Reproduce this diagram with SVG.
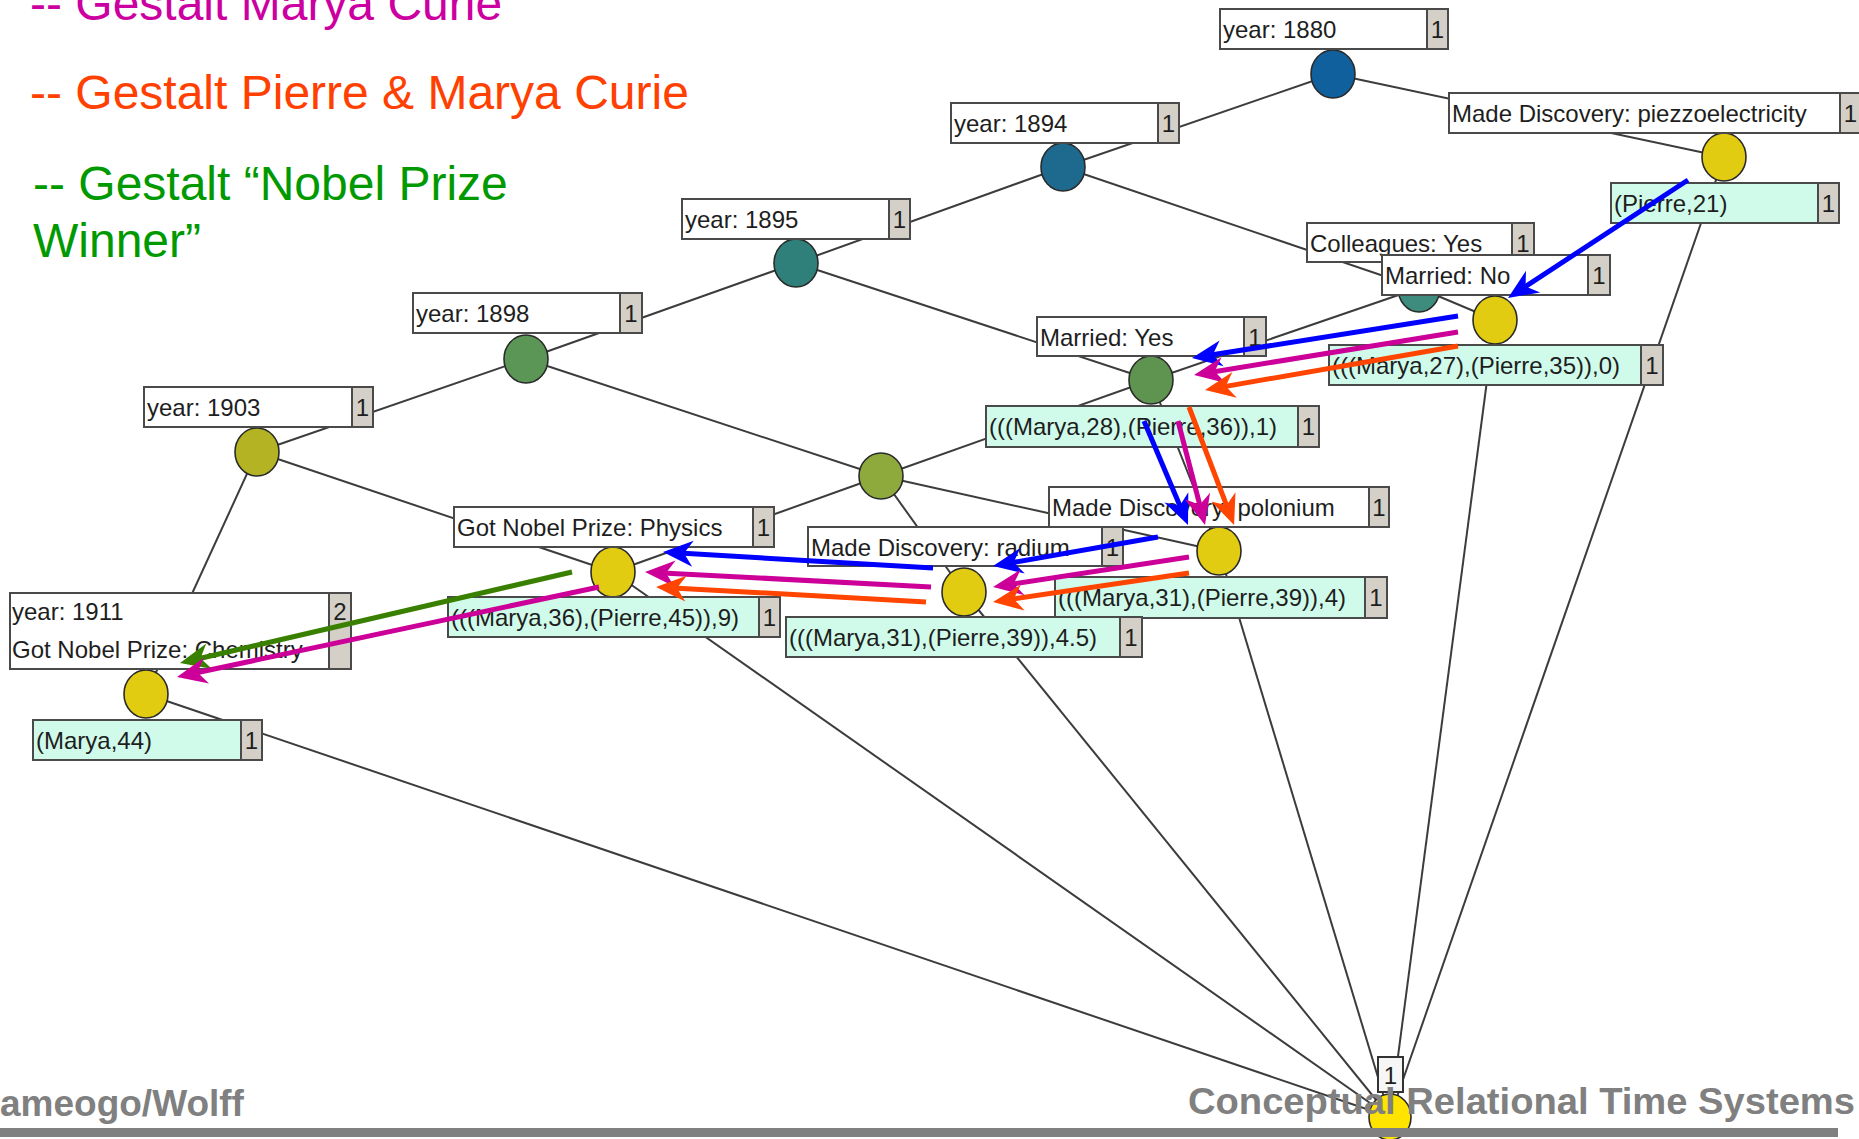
<svg xmlns="http://www.w3.org/2000/svg" width="1859" height="1139" viewBox="0 0 1859 1139">
<style>
.edge{stroke:#3c3c3c;stroke-width:2;fill:none}
.node{stroke:#2a2a2a;stroke-width:1.6}
.lbl{fill:#ffffff;stroke:#4a4a4a;stroke-width:2}
.obj{fill:#D0FBEA;stroke:#4a4a4a;stroke-width:2}
.cnt{fill:#D4D0C8;stroke:#4a4a4a;stroke-width:2}
.t{font-family:"Liberation Sans",Arial,sans-serif;font-size:24px;fill:#1e1e1e}
.tc{text-anchor:middle}
.arr{fill:none;stroke-width:5}
.title{font-family:"Liberation Sans",Arial,sans-serif;font-size:48px}
.foot{font-family:"Liberation Sans",Arial,sans-serif;font-size:37px;font-weight:bold;fill:#808080}
</style>
<defs>
<marker id="hb" markerUnits="userSpaceOnUse" viewBox="-24 -15 34 30" markerWidth="34" markerHeight="30" refX="0" refY="0" orient="auto"><path d="M8,0 L-22,-13 L-13,0 L-22,13 Z" fill="#0000FF"/></marker>
<marker id="hm" markerUnits="userSpaceOnUse" viewBox="-24 -15 34 30" markerWidth="34" markerHeight="30" refX="0" refY="0" orient="auto"><path d="M8,0 L-22,-13 L-13,0 L-22,13 Z" fill="#CC0099"/></marker>
<marker id="ho" markerUnits="userSpaceOnUse" viewBox="-24 -15 34 30" markerWidth="34" markerHeight="30" refX="0" refY="0" orient="auto"><path d="M8,0 L-22,-13 L-13,0 L-22,13 Z" fill="#FF4500"/></marker>
<marker id="hg" markerUnits="userSpaceOnUse" viewBox="-24 -15 34 30" markerWidth="34" markerHeight="30" refX="0" refY="0" orient="auto"><path d="M8,0 L-22,-13 L-13,0 L-22,13 Z" fill="#3A8000"/></marker>
</defs>
<rect x="0" y="0" width="1859" height="1139" fill="#ffffff"/>

<g id="titles">
<text class="title" x="30" y="20" fill="#CC00A0">-- Gestalt Marya Curie</text>
<text class="title" x="30" y="109" fill="#FF4000">-- Gestalt Pierre &amp; Marya Curie</text>
<text class="title" x="33" y="200" fill="#009900">-- Gestalt “Nobel Prize</text>
<text class="title" x="33" y="257" fill="#009900">Winner”</text>
</g>

<g id="connectors">
<line class="edge" x1="1333" y1="74" x2="1063" y2="167"/>
<line class="edge" x1="1333" y1="74" x2="1724" y2="157"/>
<line class="edge" x1="1063" y1="167" x2="796" y2="263"/>
<line class="edge" x1="1063" y1="167" x2="1419" y2="288"/>
<line class="edge" x1="796" y1="263" x2="526" y2="359"/>
<line class="edge" x1="796" y1="263" x2="1151" y2="380"/>
<line class="edge" x1="526" y1="359" x2="257" y2="452"/>
<line class="edge" x1="526" y1="359" x2="881" y2="476"/>
<line class="edge" x1="257" y1="452" x2="613" y2="572"/>
<line class="edge" x1="257" y1="452" x2="146" y2="694"/>
<line class="edge" x1="1419" y1="288" x2="1151" y2="380"/>
<line class="edge" x1="1419" y1="288" x2="1495" y2="320"/>
<line class="edge" x1="1151" y1="380" x2="881" y2="476"/>
<line class="edge" x1="1151" y1="380" x2="1219" y2="551"/>
<line class="edge" x1="881" y1="476" x2="1219" y2="551"/>
<line class="edge" x1="881" y1="476" x2="964" y2="592"/>
<line class="edge" x1="881" y1="476" x2="613" y2="572"/>
<line class="edge" x1="613" y1="572" x2="1390" y2="1117"/>
<line class="edge" x1="964" y1="592" x2="1390" y2="1117"/>
<line class="edge" x1="1219" y1="551" x2="1390" y2="1117"/>
<line class="edge" x1="1495" y1="320" x2="1390" y2="1117"/>
<line class="edge" x1="1724" y1="157" x2="1390" y2="1117"/>
<line class="edge" x1="146" y1="694" x2="1390" y2="1117"/>
</g>

<g id="nodes">
<ellipse id="n1880" class="node" cx="1333" cy="74" rx="22" ry="24" fill="#11609E"/>
<ellipse id="n1894" class="node" cx="1063" cy="167" rx="22" ry="24" fill="#1D6A8E"/>
<ellipse id="n1895" class="node" cx="796" cy="263" rx="22" ry="24" fill="#2F7F7A"/>
<ellipse id="n1898" class="node" cx="526" cy="359" rx="22" ry="24" fill="#5B9657"/>
<ellipse id="n1903" class="node" cx="257" cy="452" rx="22" ry="24" fill="#B3B324"/>
<ellipse id="nColl" class="node" cx="1419" cy="288" rx="21" ry="24" fill="#3D8C7E"/>
<ellipse id="nP21" class="node" cx="1724" cy="157" rx="22" ry="24" fill="#E2CC12"/>
<ellipse id="nMN" class="node" cx="1495" cy="320" rx="22" ry="24" fill="#E2CC12"/>
<ellipse id="nMY" class="node" cx="1151" cy="380" rx="22" ry="24" fill="#5F9450"/>
<ellipse id="nMid" class="node" cx="881" cy="476" rx="22" ry="23" fill="#8EAA3C"/>
<ellipse id="nPol" class="node" cx="1219" cy="551" rx="22" ry="24" fill="#E2CC12"/>
<ellipse id="nRad" class="node" cx="964" cy="592" rx="22" ry="24" fill="#E2CC12"/>
<ellipse id="nPhy" class="node" cx="613" cy="572" rx="22" ry="25" fill="#E2CC12"/>
<ellipse id="n1911" class="node" cx="146" cy="694" rx="22" ry="24" fill="#E2CC12"/>
<ellipse id="nBot" class="node" cx="1390" cy="1117" rx="21" ry="23" fill="#FFE400"/>
</g>

<g id="labels">
<g id="b1880"><rect class="lbl" x="1220" y="9" width="228" height="40"/><rect class="cnt" x="1427" y="9" width="21" height="40"/><text class="t" x="1223" y="38">year: 1880</text><text class="t tc" x="1437.5" y="38">1</text></g>
<g id="b1894"><rect class="lbl" x="951" y="103" width="228" height="40"/><rect class="cnt" x="1158" y="103" width="21" height="40"/><text class="t" x="954" y="132">year: 1894</text><text class="t tc" x="1168.5" y="132">1</text></g>
<g id="b1895"><rect class="lbl" x="682" y="199" width="228" height="40"/><rect class="cnt" x="889" y="199" width="21" height="40"/><text class="t" x="685" y="228">year: 1895</text><text class="t tc" x="899.5" y="228">1</text></g>
<g id="b1898"><rect class="lbl" x="413" y="293" width="229" height="40"/><rect class="cnt" x="620" y="293" width="22" height="40"/><text class="t" x="416" y="322">year: 1898</text><text class="t tc" x="631" y="322">1</text></g>
<g id="b1903"><rect class="lbl" x="144" y="387" width="229" height="40"/><rect class="cnt" x="352" y="387" width="21" height="40"/><text class="t" x="147" y="416">year: 1903</text><text class="t tc" x="362.5" y="416">1</text></g>
<g id="bPiezzo"><rect class="lbl" x="1449" y="93" width="412" height="40"/><rect class="cnt" x="1840" y="93" width="21" height="40"/><text class="t" x="1452" y="122">Made Discovery: piezzoelectricity</text><text class="t tc" x="1850.5" y="122">1</text></g>
<g id="bP21"><rect class="obj" x="1611" y="183" width="228" height="40"/><rect class="cnt" x="1818" y="183" width="21" height="40"/><text class="t" x="1614" y="212">(Pierre,21)</text><text class="t tc" x="1828.5" y="212">1</text></g>
<g id="bColl"><rect class="lbl" x="1307" y="223" width="227" height="39"/><rect class="cnt" x="1512" y="223" width="22" height="39"/><text class="t" x="1310" y="252">Colleagues: Yes</text><text class="t tc" x="1523" y="252">1</text></g>
<g id="bMN"><rect class="lbl" x="1382" y="255" width="228" height="40"/><rect class="cnt" x="1588" y="255" width="22" height="40"/><text class="t" x="1385" y="284">Married: No</text><text class="t tc" x="1599" y="284">1</text></g>
<g id="bM27"><rect class="obj" x="1329" y="345" width="334" height="40"/><rect class="cnt" x="1641" y="345" width="22" height="40"/><text class="t" x="1332" y="374">(((Marya,27),(Pierre,35)),0)</text><text class="t tc" x="1652" y="374">1</text></g>
<g id="bMY"><rect class="lbl" x="1037" y="317" width="229" height="39"/><rect class="cnt" x="1244" y="317" width="22" height="39"/><text class="t" x="1040" y="346">Married: Yes</text><text class="t tc" x="1255" y="346">1</text></g>
<g id="bM28"><rect class="obj" x="986" y="406" width="333" height="41"/><rect class="cnt" x="1298" y="406" width="21" height="41"/><text class="t" x="989" y="435">(((Marya,28),(Pierre,36)),1)</text><text class="t tc" x="1308.5" y="435">1</text></g>
<g id="bPol"><rect class="lbl" x="1049" y="487" width="340" height="40"/><rect class="cnt" x="1369" y="487" width="20" height="40"/><text class="t" x="1052" y="516">Made Discovery: polonium</text><text class="t tc" x="1379" y="516">1</text></g>
<g id="bM31a"><rect class="obj" x="1055" y="577" width="332" height="41"/><rect class="cnt" x="1365" y="577" width="22" height="41"/><text class="t" x="1058" y="606">(((Marya,31),(Pierre,39)),4)</text><text class="t tc" x="1376" y="606">1</text></g>
<g id="bRad"><rect class="lbl" x="808" y="527" width="315" height="39"/><rect class="cnt" x="1102" y="527" width="21" height="39"/><text class="t" x="811" y="556">Made Discovery: radium</text><text class="t tc" x="1112.5" y="556">1</text></g>
<g id="bM31b"><rect class="obj" x="786" y="617" width="356" height="40"/><rect class="cnt" x="1120" y="617" width="22" height="40"/><text class="t" x="789" y="646">(((Marya,31),(Pierre,39)),4.5)</text><text class="t tc" x="1131" y="646">1</text></g>
<g id="bPhy"><rect class="lbl" x="454" y="507" width="320" height="40"/><rect class="cnt" x="753" y="507" width="21" height="40"/><text class="t" x="457" y="536">Got Nobel Prize: Physics</text><text class="t tc" x="763.5" y="536">1</text></g>
<g id="bM36"><rect class="obj" x="448" y="597" width="332" height="40"/><rect class="cnt" x="759" y="597" width="21" height="40"/><text class="t" x="451" y="626">(((Marya,36),(Pierre,45)),9)</text><text class="t tc" x="769.5" y="626">1</text></g>
<g id="b1911"><rect class="lbl" x="10" y="593" width="341" height="76"/><rect class="cnt" x="329" y="593" width="22" height="76"/><text class="t" x="12" y="620">year: 1911</text><text class="t" x="12" y="658">Got Nobel Prize: Chemistry</text><text class="t tc" x="340" y="620">2</text></g>
<g id="bM44"><rect class="obj" x="33" y="720" width="229" height="40"/><rect class="cnt" x="241" y="720" width="21" height="40"/><text class="t" x="36" y="749">(Marya,44)</text><text class="t tc" x="251.5" y="749">1</text></g>
<g id="bBot"><rect x="1378" y="1057" width="25" height="35" fill="#f6f6f6" stroke="#333" stroke-width="2"/><text class="t tc" x="1390.5" y="1084">1</text></g>
</g>

<g id="arrows">
<line class="arr" stroke="#0000FF" marker-end="url(#hb)" x1="1688" y1="180" x2="1514.7" y2="293.6"/>
<line class="arr" stroke="#0000FF" marker-end="url(#hb)" x1="1458" y1="316" x2="1199.9" y2="356.8"/>
<line class="arr" stroke="#CC0099" marker-end="url(#hm)" x1="1458" y1="332" x2="1201.9" y2="373.7"/>
<line class="arr" stroke="#FF4500" marker-end="url(#ho)" x1="1458" y1="346" x2="1212.9" y2="388.6"/>
<line class="arr" stroke="#0000FF" marker-end="url(#hb)" x1="1144" y1="421" x2="1184.9" y2="517.6"/>
<line class="arr" stroke="#CC0099" marker-end="url(#hm)" x1="1178" y1="421" x2="1203" y2="517.3"/>
<line class="arr" stroke="#FF4500" marker-end="url(#ho)" x1="1189" y1="407" x2="1231.2" y2="517.5"/>
<line class="arr" stroke="#0000FF" marker-end="url(#hb)" x1="1158" y1="537" x2="1000.9" y2="564.6"/>
<line class="arr" stroke="#CC0099" marker-end="url(#hm)" x1="1189" y1="557" x2="1000.9" y2="585.8"/>
<line class="arr" stroke="#FF4500" marker-end="url(#ho)" x1="1189" y1="573" x2="1000.9" y2="600.8"/>
<line class="arr" stroke="#0000FF" marker-end="url(#hb)" x1="933" y1="568" x2="671" y2="552.5"/>
<line class="arr" stroke="#CC0099" marker-end="url(#hm)" x1="931" y1="587" x2="653" y2="572.4"/>
<line class="arr" stroke="#FF4500" marker-end="url(#ho)" x1="926" y1="602" x2="664" y2="587.4"/>
<line class="arr" stroke="#3A8000" marker-end="url(#hg)" x1="572" y1="572" x2="187.8" y2="661.2"/>
<line class="arr" stroke="#CC0099" marker-end="url(#hm)" x1="599" y1="587" x2="184.8" y2="675.3"/>
</g>

<g id="footer">
<text class="foot" x="0" y="1116">ameogo/Wolff</text>
<text class="foot" x="1188" y="1114" textLength="667" lengthAdjust="spacingAndGlyphs">Conceptual Relational Time Systems</text>
<rect x="0" y="1128" width="1838" height="9" fill="#808080"/>
</g>
</svg>
